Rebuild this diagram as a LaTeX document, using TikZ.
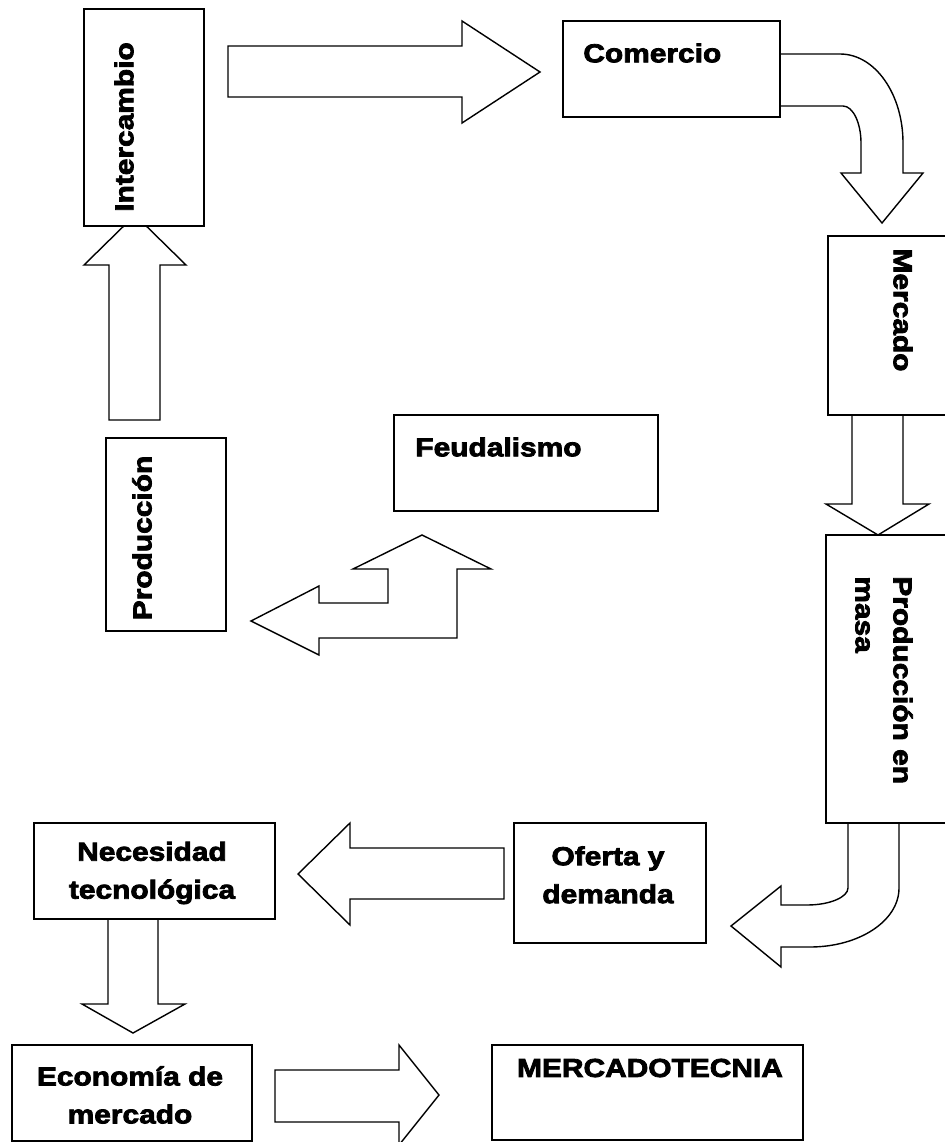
\documentclass[tikz,border=0pt]{standalone}
\usepackage{fontspec}
\newfontfamily\rotulofont{Liberation Sans}[UprightFont={* Bold}, FakeStretch=1.15, FakeBold=3]
\usepackage{tikz}
\usetikzlibrary{calc}

\tikzset{
  caja/.style={draw, fill=white, line width=0.8pt},
  flecha/.style={draw, fill=white, line width=0.8pt, line join=miter},
  rotulo/.style={font=\rotulofont\fontsize{14.8}{21.6}\selectfont, inner sep=0pt}
}

\begin{document}
\begin{tikzpicture}[x=0.02cm, y=-0.02cm]
		\useasboundingbox (0,0) rectangle (945,1142);
		% flechas
		\draw[flecha] (228,46) -- (462,46) -- (462,21) -- (540,72) -- (462,123) -- (462,97) -- (228,97) -- cycle;
		\draw[flecha] (780,54) -- (840,54) .. controls (875,54) and (903,94) .. (903,143) -- (903,173) -- (923,173) -- (882,223) -- (841,173) -- (861,173) -- (861,143) .. controls (861,123) and (853,106) .. (843,106) -- (780,106) -- cycle;
		\draw[flecha] (852,415) -- (852,504) -- (826,504) -- (878,535) -- (929,504) -- (903,504) -- (903,415) -- cycle;
		\draw[flecha] (899,823) -- (899,888) .. controls (899,921) and (859,947) .. (810,947) -- (781,947) -- (781,967) -- (731,926) -- (781,886) -- (781,905) -- (807,905) .. controls (830,905) and (848,897) .. (848,888) -- (848,823) -- cycle;
		\draw[flecha] (504,848) -- (350,848) -- (350,823) -- (298,874) -- (350,925) -- (350,899) -- (504,899) -- cycle;
		\draw[flecha] (108,919) -- (108,1004) -- (82,1004) -- (133,1033) -- (185,1004) -- (158,1004) -- (158,919) -- cycle;
		\draw[flecha] (275,1070) -- (399,1070) -- (399,1045) -- (439,1095) -- (399,1145) -- (399,1122) -- (275,1122) -- cycle;
		\draw[flecha] (109,420) -- (109,265) -- (84,265) -- (135,215) -- (186,265) -- (160,265) -- (160,420) -- cycle;
		\draw[flecha] (422,535) -- (491,569) -- (457,569) -- (457,638) -- (319,638) -- (319,655) -- (251,621) -- (319,586) -- (319,603) -- (388,603) -- (388,569) -- (353,569) -- cycle;
		% cajas
		\draw[caja] (84,9) rectangle (204,226);
		\draw[caja] (563,21) rectangle (780,117);
		\draw[caja] (828,236) rectangle (950,415);
		\draw[caja] (826,535) rectangle (950,823);
		\draw[caja] (106,438) rectangle (226,631);
		\draw[caja] (394,415) rectangle (658,511);
		\draw[caja] (34,823) rectangle (275,919);
		\draw[caja] (514,823) rectangle (706,943);
		\draw[caja] (12,1045) rectangle (252,1141);
		\draw[caja] (492,1045) rectangle (803,1140);
		% textos
		\node[rotulo, rotate=90] (intercambio) at (124,127) {Intercambio};
		\node[rotulo, anchor=west] (comercio) at (583,53) {Comercio};
		\node[rotulo, rotate=-90] (mercado) at (903,310) {Mercado};
		\node[rotulo, rotate=-90, anchor=north west, align=left] (masa) at (913,576) {Producción en\\masa};
		\node[rotulo, rotate=90] (produccion) at (142,538) {Producción};
		\node[rotulo, anchor=west] (feudalismo) at (415,447) {Feudalismo};
		\node[rotulo, align=center] (necesidad) at (152,873) {Necesidad\\tecnológica};
		\node[rotulo, align=center, anchor=north] (oferta) at (608,846) {Oferta y\\demanda};
		\node[rotulo, align=center] (economia) at (130,1095) {Economía de\\mercado};
		\node[rotulo] (mercadotecnia) at (650,1068) {MERCADOTECNIA};
	\end{tikzpicture}
\end{document}
